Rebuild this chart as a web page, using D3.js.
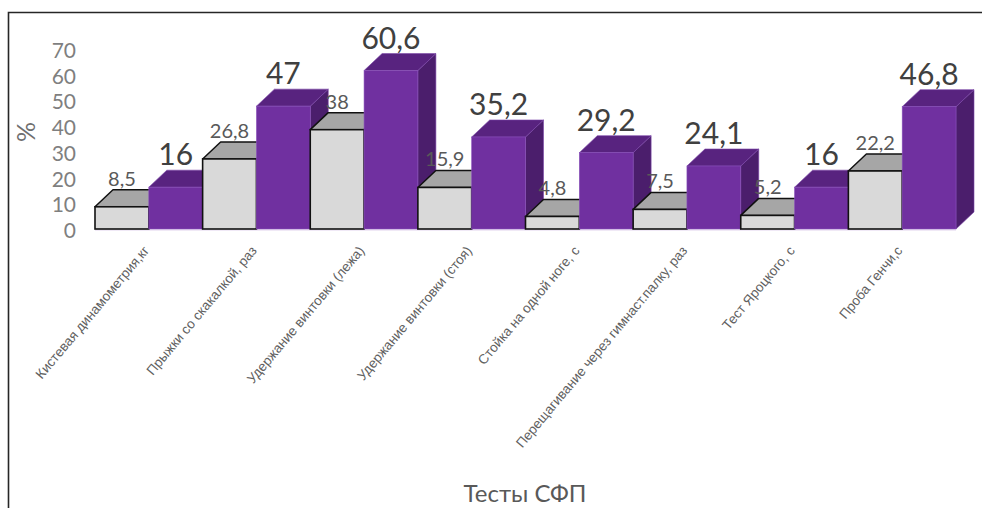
<!DOCTYPE html>
<html><head><meta charset="utf-8">
<script src="https://cdn.jsdelivr.net/npm/d3@7/dist/d3.min.js"></script>
<style>html,body{margin:0;padding:0;background:#fff;}svg{display:block;}</style>
</head><body>
<svg id="c" width="982" height="508"></svg>
<script>
const categories = ["Кистевая динамометрия,кг","Прыжки со скакалкой, раз","Удержание винтовки (лежа)","Удержание винтовки (стоя)","Стойка на одной ноге, с","Перещагивание через гимнаст.палку, раз","Тест Яроцкого, с","Проба Генчи,с"];
const seriesA = [8.5, 26.8, 38, 15.9, 4.8, 7.5, 5.2, 22.2];
const seriesB = [16, 47, 60.6, 35.2, 29.2, 24.1, 16, 46.8];
const labelsA = ["8,5","26,8","38","15,9","4,8","7,5","5,2","22,2"];
const labelsB = ["16","47","60,6","35,2","29,2","24,1","16","46,8"];
const yTicks = [0,10,20,30,40,50,60,70];

const svg = d3.select("#c");
const W = 982, H = 508;
const DX = 18, DY = -17;
const x = d3.scaleBand().domain(categories).range([95, 956]).padding(0);
const xs = d3.scaleBand().domain(["a","b"]).range([0, x.bandwidth()]).padding(0);
const y = d3.scaleLinear().domain([0,70]).range([229, 46]);

// frame
svg.append("path").attr("d", `M8.5,${H} L8.5,12.5 L${W},12.5`).attr("fill","none").attr("stroke","#262626").attr("stroke-width",1.6);

// floor line
svg.append("line").attr("x1",x.range()[0]).attr("x2",x.range()[1]).attr("y1",y(0)+1).attr("y2",y(0)+1).attr("stroke","#e2d4ee").attr("stroke-width",1.2);

// y axis labels
const yAxis = d3.axisLeft(y).tickValues(yTicks).tickSize(0).tickPadding(0).tickFormat(d3.format("d"));
const gy = svg.append("g").attr("transform","translate(76,0)").call(yAxis);
gy.select(".domain").remove();
gy.selectAll("text").attr("font-family","Lato, 'Open Sans', sans-serif").attr("font-size",21).attr("fill","#7f7f7f").attr("dy","0.36em")
  .attr("transform", d => `translate(0,${(d/70)*3 + 1})`);

svg.append("text").attr("transform","translate(35,132) rotate(-90)").attr("text-anchor","middle")
  .attr("font-family","Lato, 'Open Sans', sans-serif").attr("font-size",25).attr("fill","#6f6f6f").text("%");

const bars = svg.append("g");
categories.forEach((c,i) => {
  // gray bar
  const gx0 = x(c) + xs("a"), gx1 = gx0 + xs.bandwidth();
  const gyT = y(seriesA[i]), y0 = y(0);
  const g = bars.append("g");
  g.append("path").attr("d", `M${gx0},${gyT} L${gx0+DX},${gyT+DY} L${gx1+DX},${gyT+DY} L${gx1},${gyT} Z`)
    .attr("fill","#a6a6a6").attr("stroke","#111").attr("stroke-width",1.5).attr("stroke-linejoin","round");
  g.append("rect").attr("x",gx0).attr("y",gyT).attr("width",gx1-gx0).attr("height",y0-gyT)
    .attr("fill","#d9d9d9").attr("stroke","#111").attr("stroke-width",1.6);
  // purple bar
  const px0 = x(c) + xs("b"), px1 = px0 + xs.bandwidth();
  const pyT = y(seriesB[i]);
  const p = bars.append("g");
  p.append("path").attr("d", `M${px1},${pyT} L${px1+DX},${pyT+DY} L${px1+DX},${y0+DY} L${px1},${y0} Z`)
    .attr("fill","#4b1e6c").attr("stroke","#7a45a8").attr("stroke-width",0.6);
  p.append("path").attr("d", `M${px0},${pyT} L${px0+DX},${pyT+DY} L${px1+DX},${pyT+DY} L${px1},${pyT} Z`)
    .attr("fill","#58237f").attr("stroke","#7a45a8").attr("stroke-width",0.6);
  p.append("rect").attr("x",px0).attr("y",pyT).attr("width",px1-px0).attr("height",y0-pyT)
    .attr("fill","#7030a0").attr("stroke","#8a52bb").attr("stroke-width",0.6);
});

// data labels
const lab = svg.append("g").attr("font-family","Lato, 'Open Sans', sans-serif").attr("text-anchor","middle");
categories.forEach((c,i) => {
  const gx = x(c) + xs("a") + xs.bandwidth()/2;
  lab.append("text").attr("x", gx).attr("y", y(seriesA[i]) + DY - 4).attr("font-size",20).attr("fill","#595959").text(labelsA[i]);
  const px = x(c) + xs("b") + xs.bandwidth()/2;
  lab.append("text").attr("x", px).attr("y", y(seriesB[i]) + DY - 5).attr("font-size",30).attr("fill","#404040").text(labelsB[i]);
});

// category labels
const cl = svg.append("g").attr("font-family","'Liberation Sans', Arial, sans-serif").attr("font-size",13.5).attr("fill","#606060");
categories.forEach(c => {
  const cx = x(c) + x.bandwidth()/2 + 1;
  cl.append("text").attr("transform",`translate(${cx},251) rotate(-50)`).attr("text-anchor","end").text(c);
});

// axis title
svg.append("text").attr("x",525).attr("y",502).attr("text-anchor","middle")
  .attr("font-family","Lato, 'Open Sans', sans-serif").attr("font-size",24).attr("fill","#595959").text("Тесты СФП");
</script>
</body></html>
